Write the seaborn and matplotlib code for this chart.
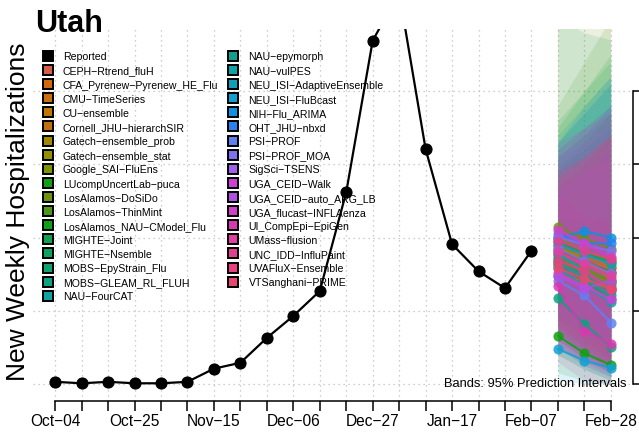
import matplotlib
matplotlib.use("Agg")
import matplotlib.pyplot as plt
import seaborn as sns
import pandas as pd
import numpy as np
from matplotlib.lines import Line2D

sns.set_style("white")
plt.rcParams["font.family"] = ["Liberation Sans", "DejaVu Sans"]
plt.rcParams["text.color"] = "black"
plt.rcParams["xtick.color"] = "black"
plt.rcParams["ytick.color"] = "black"
plt.rcParams["axes.labelcolor"] = "black"

# ---------------- data ----------------
week_labels = ["Oct−04", "Oct−11", "Oct−18", "Oct−25", "Nov−01", "Nov−08", "Nov−15",
               "Nov−22", "Nov−29", "Dec−06", "Dec−13", "Dec−20", "Dec−27", "Jan−03",
               "Jan−10", "Jan−17", "Jan−24", "Jan−31", "Feb−07", "Feb−14", "Feb−21",
               "Feb−28"]
reported = [3, 1, 3, 1, 1, 3, 21, 29, 63, 93, 127, 262, 469, 535, 321, 191, 154, 131, 182]

models = ["CEPH−Rtrend_fluH", "CFA_Pyrenew−Pyrenew_HE_Flu", "CMU−TimeSeries", "CU−ensemble",
          "Cornell_JHU−hierarchSIR", "Gatech−ensemble_prob", "Gatech−ensemble_stat",
          "Google_SAI−FluEns", "LUcompUncertLab−puca", "LosAlamos−DoSiDo",
          "LosAlamos−ThinMint", "LosAlamos_NAU−CModel_Flu", "MIGHTE−Joint", "MIGHTE−Nsemble",
          "MOBS−EpyStrain_Flu", "MOBS−GLEAM_RL_FLUH", "NAU−FourCAT", "NAU−epymorph",
          "NAU−vulPES", "NEU_ISI−AdaptiveEnsemble", "NEU_ISI−FluBcast", "NIH−Flu_ARIMA",
          "OHT_JHU−nbxd", "PSI−PROF", "PSI−PROF_MOA", "SigSci−TSENS", "UGA_CEID−Walk",
          "UGA_CEID−auto_ARG_LB", "UGA_flucast−INFLAenza", "UI_CompEpi−EpiGen",
          "UMass−flusion", "UNC_IDD−InfluPaint", "UVAFluX−Ensemble", "VTSanghani−PRIME"]

median = [[178, 168, 158], [168, 158, 141], [148, 141, 130], [185, 174, 160],
          [164, 155, 137], [192, 168, 151], [188, 168, 144], [199, 182, 168],
          [66, 42, 26], [214, 199, 185], [174, 158, 140], [182, 168, 153],
          [195, 178, 167], [162, 141, 116], [171, 148, 127], [118, 82, 51],
          [158, 134, 112], [167, 144, 121], [178, 155, 133], [190, 177, 164],
          [48, 32, 22], [199, 209, 200], [205, 192, 192], [141, 121, 84],
          [201, 190, 182], [185, 168, 151], [151, 134, 116], [148, 130, 141],
          [210, 192, 174], [134, 73, 55], [181, 164, 147], [196, 182, 171],
          [168, 155, 130], [158, 144, 130]]

lower95 = [[90, 60, 40], [80, 50, 30], [70, 45, 25], [95, 65, 45],
           [75, 50, 30], [100, 70, 45], [90, 60, 35], [110, 80, 55],
           [15, 5, 0], [90, 50, 25], [60, 35, 15], [70, 45, 25],
           [80, 55, 35], [40, 20, 5], [70, 45, 25], [40, 20, 5],
           [50, 25, 10], [60, 35, 15], [65, 40, 20], [100, 75, 55],
           [5, 0, 0], [90, 70, 50], [110, 80, 60], [50, 30, 10],
           [100, 80, 60], [60, 35, 15], [50, 25, 10], [55, 30, 20],
           [80, 50, 25], [30, 5, 0], [80, 55, 35], [70, 45, 20],
           [60, 40, 20], [50, 30, 15]]

upper95 = [[280, 320, 360], [270, 300, 340], [240, 280, 320], [290, 330, 370],
           [260, 300, 340], [300, 320, 350], [310, 340, 370], [300, 330, 370],
           [170, 210, 250], [560, 600, 650], [380, 440, 500], [350, 400, 450],
           [500, 480, 470], [360, 400, 440], [310, 340, 380], [230, 220, 210],
           [330, 370, 410], [340, 380, 420], [330, 370, 410], [290, 320, 350],
           [140, 130, 120], [330, 380, 420], [320, 350, 380], [260, 290, 320],
           [310, 330, 360], [310, 340, 380], [280, 300, 330], [270, 290, 310],
           [330, 350, 370], [260, 230, 220], [290, 310, 340], [320, 350, 380],
           [290, 310, 340], [280, 310, 340]]

forecast_weeks = [19, 20, 21]
y_ticks = [0, 100, 200, 300, 400]

# model colours (style)
model_colors = ["#D4604A", "#D0680E", "#C87010", "#BE7A00", "#C06E10", "#A08800",
                "#929000", "#7F9200", "#12A012", "#6E9012", "#4E961A", "#10A018",
                "#10A050", "#0FA062", "#10A072", "#10A080", "#12A0A0", "#10A090",
                "#10A2AA", "#10A0BA", "#12A0D2", "#1090E0", "#2A80F0", "#6080F0",
                "#8070F0", "#A060E8", "#D040D8", "#B050E0", "#D040C8", "#D838B0",
                "#E040A0", "#E04090", "#E84080", "#E84870"]

# ---------------- build tables ----------------
rep_df = pd.DataFrame({"week": np.arange(len(reported)), "value": reported})
rows = []
for m, vals in zip(models, median):
    for w, v in zip(forecast_weeks, vals):
        rows.append({"model": m, "week": w, "value": v})
fc_df = pd.DataFrame(rows)

palette = dict(zip(models, model_colors))

# ---------------- figure ----------------
W, H = 639, 435
fig = plt.figure(figsize=(W / 100, H / 100), dpi=100)
ax = fig.add_axes([33 / W, 1 - 402 / H, 600 / W, (402 - 30) / H])

# bands
for m, lo, hi in zip(models, lower95, upper95):
    ax.fill_between(forecast_weeks, lo, hi, color=palette[m], alpha=0.13, linewidth=0, zorder=1)

# forecast medians
sns.lineplot(data=fc_df, x="week", y="value", hue="model", palette=palette,
             marker="o", markersize=7.3, markeredgewidth=0, linewidth=1.6,
             alpha=0.85, legend=False, estimator=None, ax=ax, zorder=3)

# reported
sns.lineplot(data=rep_df, x="week", y="value", color="black", marker="o",
             markersize=8, markeredgecolor="black", linewidth=1.6,
             legend=False, estimator=None, ax=ax, zorder=4)

ax.set_xlim(-0.84, 21.84)
ax.set_ylim(-23.2, 485)
ax.set_xlabel("")
ax.set_ylabel("")

ax.set_xticks(range(len(week_labels)))
ax.set_xticklabels([lab if i % 3 == 0 else "" for i, lab in enumerate(week_labels)])
ax.tick_params(axis="x", direction="out", length=7, width=1.1, labelsize=11.2, pad=2,
               bottom=True, colors="black")
ax.set_yticks(y_ticks)
ax.yaxis.tick_right()
ax.tick_params(axis="y", direction="out", length=7, width=1.1, right=True, left=False,
               labelright=False, labelleft=False, colors="black")

for s in ["top", "left"]:
    ax.spines[s].set_visible(False)
ax.spines["bottom"].set_bounds(0, 21)
ax.spines["right"].set_bounds(0, 400)
for s in ["bottom", "right"]:
    ax.spines[s].set_linewidth(1.1)
    ax.spines[s].set_color("black")

ax.grid(True, linestyle=(0, (1, 3)), color="#BEBEBE", linewidth=0.9)
ax.set_axisbelow(True)

# legends
fs = 7.6
def handle(c):
    return Line2D([], [], linestyle="None", marker="s", markersize=7,
                  markerfacecolor=c, markeredgecolor="black", markeredgewidth=1.4)

col1_labels = ["Reported"] + models[:17]
col1_handles = [handle("black")] + [handle(palette[m]) for m in models[:17]]
col2_labels = models[17:]
col2_handles = [handle(palette[m]) for m in models[17:]]

common = dict(loc="upper left", frameon=False, fontsize=fs, borderpad=0,
              borderaxespad=0, handlelength=1.0, handletextpad=0.92,
              labelspacing=0.39, bbox_transform=fig.transFigure)
leg1 = ax.legend(col1_handles, col1_labels, bbox_to_anchor=(42.7 / W, 1 - 52.5 / H), **common)
ax.add_artist(leg1)
leg2 = ax.legend(col2_handles, col2_labels, bbox_to_anchor=(228.2 / W, 1 - 52.5 / H), **common)
for lg in (leg1, leg2):
    for t in lg.get_texts():
        t.set_color("black")

# texts
fig.text(627 / W, 1 - 384 / H, "Bands: 95% Prediction Intervals", ha="right", va="center",
         fontsize=9.3, color="black")
fig.text(35 / W, 1 - 32 / H, "Utah", ha="left", va="baseline", fontsize=22,
         fontweight="bold", color="black")
fig.text(18 / W, 1 - 212 / H, "New Weekly Hospitalizations", rotation=90,
         ha="center", va="center", fontsize=19, color="black")

fig.savefig("out.png", dpi=100)
